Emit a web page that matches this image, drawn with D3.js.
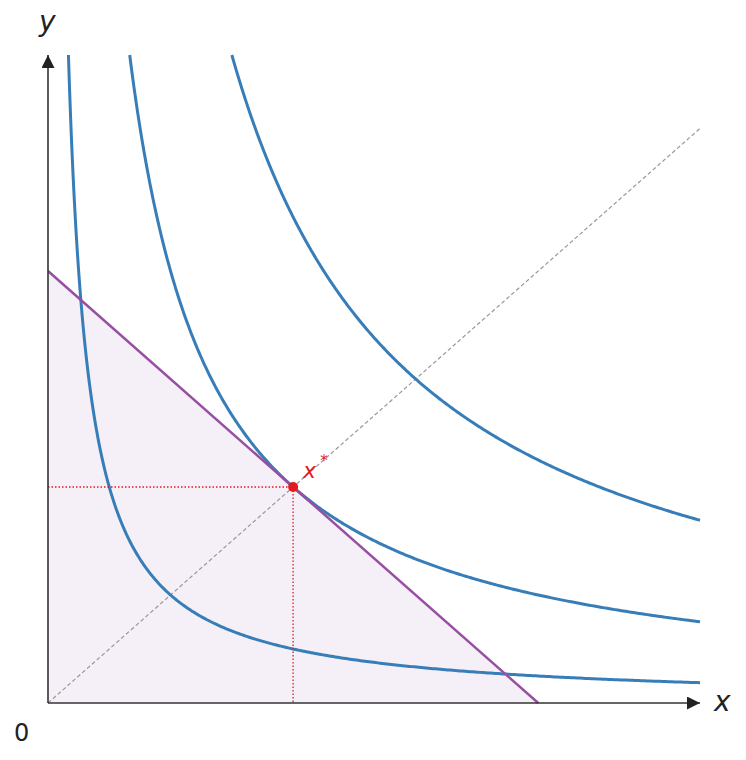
<!DOCTYPE html>
<html>
<head>
<meta charset="utf-8">
<script src="https://cdn.jsdelivr.net/npm/d3@7"></script>
<style>
body { margin: 0; background: #fff; }
text { font-family: "DejaVu Sans", sans-serif; }
</style>
</head>
<body>
<div id="chart"></div>
<script>
// utility levels u = x*y, budget x + y = 2, optimum at (1, 1)
var levels = [0.25, 1, 2.25];
var budget = [[0, 2], [2, 0]];
var optimum = [1, 1];
var xMax = 2.66, yMax = 3;

var svg = d3.select("#chart")
	.append("svg")
	.attr("width", 746)
	.attr("height", 760);

var x = d3.scaleLinear().domain([0, xMax]).range([48, 700]);
var y = d3.scaleLinear().domain([0, yMax]).range([703, 55]);

var defs = svg.append("defs");
defs.append("marker")
	.attr("id", "arrow")
	.attr("viewBox", "0 0 10 10")
	.attr("refX", 10)
	.attr("refY", 5)
	.attr("markerWidth", 13)
	.attr("markerHeight", 13)
	.attr("markerUnits", "userSpaceOnUse")
	.attr("orient", "auto")
	.append("path")
	.attr("d", "M0,0 L10,5 L0,10 Z")
	.attr("fill", "#222");

// shaded budget set
svg.append("path")
	.attr("d", d3.line().x(d => x(d[0])).y(d => y(d[1]))([[0, 0]].concat(budget)))
	.attr("fill", "#f5f0f7");

// 45 degree line
svg.append("line")
	.attr("x1", x(0)).attr("y1", y(0))
	.attr("x2", x(xMax)).attr("y2", y(xMax))
	.attr("stroke", "#999")
	.attr("stroke-width", 1.2)
	.attr("stroke-dasharray", "4,2.5");

// indifference curves
var line = d3.line().x(d => x(d[0])).y(d => y(d[1]));
levels.forEach(c => {
	var pts = [];
	var x0 = c / yMax;
	for (var i = 0; i <= 400; i++) {
		var xv = x0 + (xMax - x0) * Math.pow(i / 400, 2);
		pts.push([xv, c / xv]);
	}
	svg.append("path")
		.attr("d", line(pts))
		.attr("fill", "none")
		.attr("stroke", "#377eb8")
		.attr("stroke-width", 3);
});

// budget line
svg.append("path")
	.attr("d", line(budget))
	.attr("fill", "none")
	.attr("stroke", "#984ea3")
	.attr("stroke-width", 2.5);

// dotted guides to optimum
svg.append("path")
	.attr("d", line([[0, optimum[1]], optimum, [optimum[0], 0]]))
	.attr("fill", "none")
	.attr("stroke", "#e41a1c")
	.attr("stroke-width", 1.3)
	.attr("stroke-dasharray", "1.5,2");

svg.append("circle")
	.attr("cx", x(optimum[0]))
	.attr("cy", y(optimum[1]))
	.attr("r", 5)
	.attr("fill", "#e41a1c");

var lab = svg.append("text")
	.attr("x", x(optimum[0]) + 10)
	.attr("y", y(optimum[1]) - 9)
	.attr("fill", "#e41a1c")
	.style("font-size", "22px");
lab.append("tspan").style("font-style", "italic").text("x");
lab.append("tspan").attr("dx", 4).attr("dy", -12).style("font-size", "15px").text("*");

// axes
svg.append("line")
	.attr("x1", x(0)).attr("y1", y(0))
	.attr("x2", x(xMax)).attr("y2", y(0))
	.attr("stroke", "#333")
	.attr("stroke-width", 1.6)
	.attr("marker-end", "url(#arrow)");
svg.append("line")
	.attr("x1", x(0)).attr("y1", y(0))
	.attr("x2", x(0)).attr("y2", y(yMax))
	.attr("stroke", "#333")
	.attr("stroke-width", 1.6)
	.attr("marker-end", "url(#arrow)");

svg.append("text")
	.attr("x", 714).attr("y", 711)
	.style("font-size", "28px")
	.style("font-style", "italic")
	.attr("fill", "#222")
	.text("x");
svg.append("text")
	.attr("x", 39).attr("y", 31)
	.style("font-size", "28px")
	.style("font-style", "italic")
	.attr("fill", "#222")
	.text("y");
svg.append("text")
	.attr("x", 14).attr("y", 741)
	.style("font-size", "24px")
	.attr("fill", "#222")
	.text("0");
</script>
</body>
</html>
